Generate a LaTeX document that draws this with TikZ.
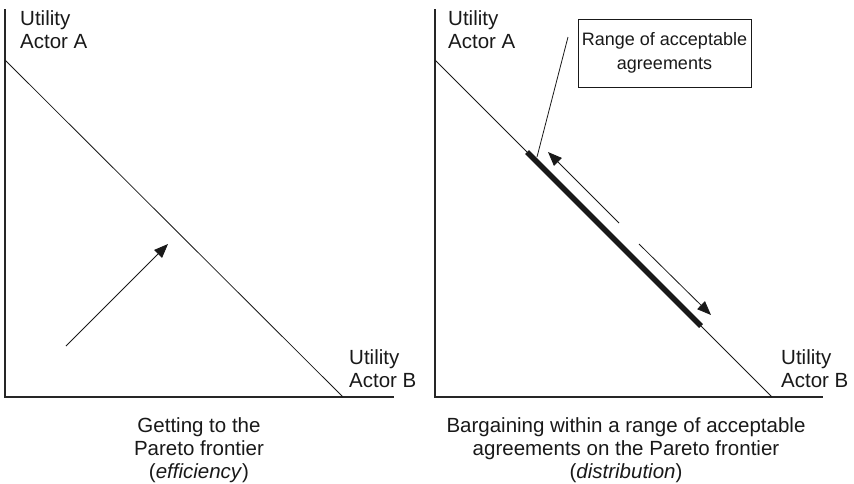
\documentclass[tikz,border=0pt]{standalone}
\usepackage{fontspec}
\setmainfont{Liberation Sans}
\usetikzlibrary{arrows.meta}
\begin{document}
\begin{tikzpicture}[x=1pt,y=-1pt,
  axis/.style={line width=1.3pt, draw=black!85},
  frontier/.style={line width=0.8pt, draw=black!90},
  arr/.style={line width=0.8pt, draw=black!90, -{Triangle[length=14pt,width=11pt]}},
  lbl/.style={font=\fontsize{20.5}{23}\selectfont, inner sep=0pt, text=black!90},
  boxlbl/.style={font=\fontsize{18}{24}\selectfont, inner sep=0pt, text=black!90},
  every node/.style={text=black!90}]
\useasboundingbox (0,0) rectangle (854,483);
% ---------- left panel ----------
\coordinate (LO) at (5,397);
\coordinate (LT) at (5,9);
\coordinate (LR) at (394,397);
\coordinate (LA) at (5,60);
\coordinate (LB) at (343,397);
\draw[axis] (LT) -- (LO) -- (LR);
\draw[frontier] (LA) -- (LB);
\coordinate (L1) at (66,346);
\coordinate (L2) at (168,244);
\draw[arr] (L1) -- (L2);
\node[lbl, anchor=north west, align=left] (lya) at (20,10) {Utility\\Actor A};
\node[lbl, anchor=north west, align=left] (lyb) at (349,349) {Utility\\Actor B};
\node[lbl, anchor=north, align=center] (lcap) at (199,417) {Getting to the\\Pareto frontier\\(\textit{efficiency})};
% ---------- right panel ----------
\coordinate (RO) at (435,397);
\coordinate (RT) at (435,9);
\coordinate (RR) at (823,397);
\coordinate (RA) at (435,60);
\coordinate (RB) at (772,397);
\draw[axis] (RT) -- (RO) -- (RR);
\draw[frontier] (RA) -- (RB);
\coordinate (S1) at (527,152);
\coordinate (S2) at (701,326);
\draw[line width=5.5pt, line cap=butt, draw=black!90] (S1) -- (S2);
\coordinate (U1) at (619,223);
\coordinate (U2) at (548,152);
\draw[arr] (U1) -- (U2);
\coordinate (D1) at (639,244);
\coordinate (D2) at (711,315);
\draw[arr] (D1) -- (D2);
\node[boxlbl, draw=black!90, line width=0.9pt, minimum width=173pt, minimum height=68pt, align=center] (box) at (664.5,53) {Range of acceptable\\agreements};
\coordinate (P1) at (568,37);
\coordinate (P2) at (537,157);
\draw[frontier] (P1) -- (P2);
\node[lbl, anchor=north west, align=left] (rya) at (448,10) {Utility\\Actor A};
\node[lbl, anchor=north west, align=left] (ryb) at (781,349) {Utility\\Actor B};
\node[lbl, anchor=north, align=center] (rcap) at (626,417) {Bargaining within a range of acceptable\\agreements on the Pareto frontier\\(\textit{distribution})};
\end{tikzpicture}
\end{document}
